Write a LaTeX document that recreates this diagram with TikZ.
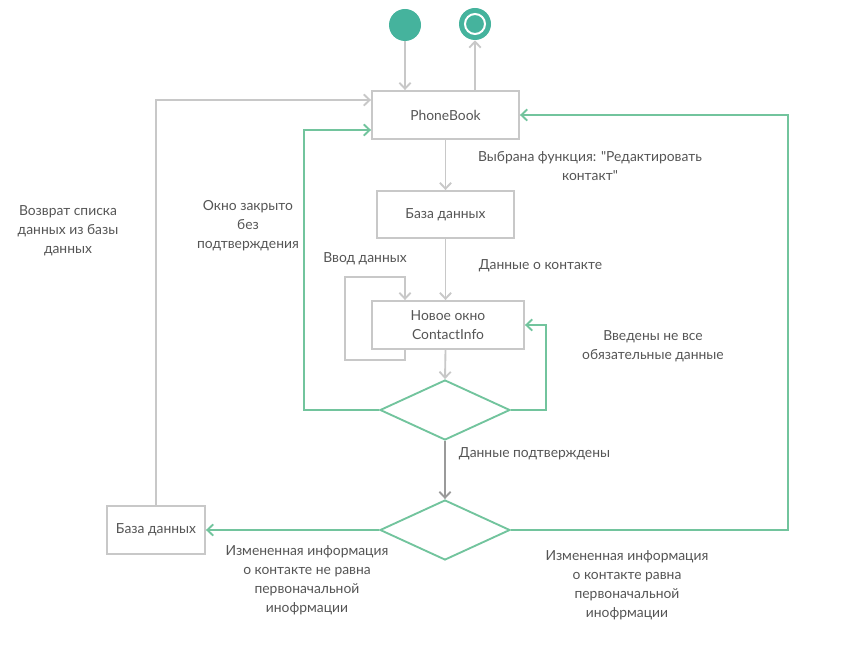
\documentclass[tikz,border=0pt]{standalone}
\usepackage{fontspec}
\setmainfont{Lato}[Ligatures=TeXOff]
\usetikzlibrary{arrows.meta,shapes.geometric,calc}
\definecolor{lgray}{HTML}{C8C8C8}
\definecolor{dgray}{HTML}{9A9A9A}
\definecolor{lgreen}{HTML}{72C49D}
\definecolor{dgreen}{HTML}{45B39D}
\definecolor{txt}{HTML}{555555}
\tikzset{
    box/.style={draw=lgray, line width=1.4pt, text=txt, align=center,
        inner sep=0pt, font=\fontsize{10.4}{14.25}\selectfont},
    choice/.style={diamond, draw=lgreen, line width=1.4pt, inner sep=0pt,
        minimum width=97.5pt, minimum height=45pt},
    lbl/.style={text=txt, align=center, inner sep=0pt,
        font=\fontsize{10.4}{14.25}\selectfont},
    tip/.style={-{Straight Barb[length=4.5pt,width=8.5pt]}},
    gline/.style={draw=lgray, line width=1.4pt, tip},
    kline/.style={draw=dgray, line width=1.4pt, tip},
    eline/.style={draw=lgreen, line width=1.4pt, tip}
}

\begin{document}
\begin{tikzpicture}[x=0.75pt, y=-0.75pt]
    \useasboundingbox (0,0) rectangle (850,655);
    \node (start) at (405,25)
            [circle, fill=dgreen, minimum size=24pt, inner sep=0pt] {};
    \node (stop) at (475,24)
            [circle, fill=dgreen, minimum size=24pt, inner sep=0pt] {};
    \draw[white, line width=1.5pt] (stop) circle (10);
    \node (pb) at (445.5,115)
            [box, minimum width=110.25pt, minimum height=36pt] {PhoneBook};
    \node (db1) at (445.5,214.5)
            [box, minimum width=102.75pt, minimum height=35.25pt] {База данных};
    \node (ci) at (448,325)
            [box, minimum width=114pt, minimum height=36pt]
            {Новое окно\\ContactInfo};
    \node (d1) at (445,410)
            [choice] {};
    \node (d2) at (445,530)
            [choice] {};
    \node (db2) at (156,530)
            [box, minimum width=73.5pt, minimum height=36pt] {База данных};

    \node (l1) at (590,166.5)
            [lbl] {Выбрана функция: "Редактировать\\контакт"};
    \node (l2) at (540.5,266)
            [lbl] {Данные о контакте};
    \node (l3) at (365,259)
            [lbl] {Ввод данных};
    \node (l4) at (653,346.5)
            [lbl] {Введены не все\\обязательные данные};
    \node (l5) at (248,226)
            [lbl] {Окно закрыто\\без\\подтверждения};
    \node (l6) at (534.5,454)
            [lbl] {Данные подтверждены};
    \node (l7) at (68,231)
            [lbl] {Возврат списка\\данных из базы\\данных};
    \node (l8) at (307,580.5)
            [lbl] {Измененная информация\\о контакте не равна\\первоначальной\\инофрмации};
    \node (l9) at (627,585.5)
            [lbl] {Измененная информация\\о контакте равна\\первоначальной\\инофрмации};

    \draw[gline] (start) -- (start |- pb.north);
    \draw[gline] (pb.north -| stop) -- (stop);
    \draw[gline] (pb) -- (db1);
    \draw[gline] (db1.south -| pb) -- (ci.north -| pb);
    \draw[gline] (ci.south -| start) -- ++(0,10) -| ++(-60,-83) -| (ci.north -| start);
    \draw[gline] (ci.south -| pb) -- (d1.north);
    \draw[eline] (d1.east) -| ($(ci.east)+(21,0)$) -- (ci.east);
    \draw[eline] (d1.west) -| ($(pb.west)+(-67,15)$) -- ($(pb.west)+(0,15)$);
    \draw[kline] (d1.south) -- (d2.north);
    \draw[eline] (d2.west) -- (db2.east);
    \draw[eline] (d2.east) -| ($(pb.east)+(268,0)$) -- (pb.east);
    \draw[gline] (db2.north) |- ($(pb.west)+(0,-15)$);
\end{tikzpicture}
\end{document}
